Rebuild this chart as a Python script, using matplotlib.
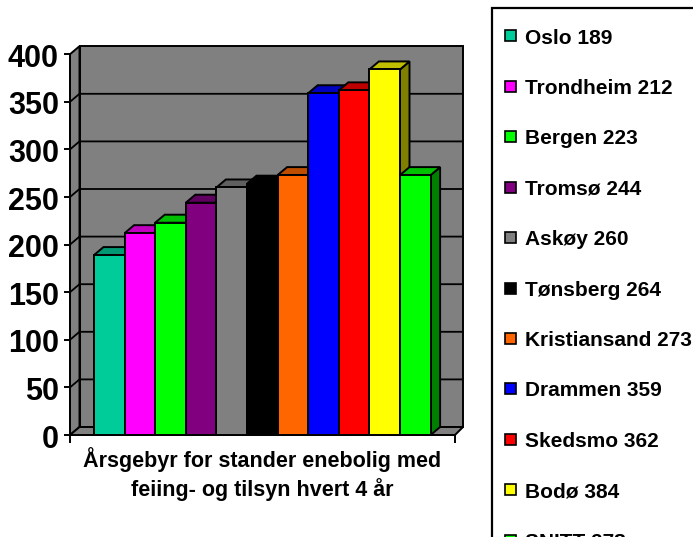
import matplotlib
matplotlib.use('Agg')
import matplotlib.pyplot as plt
from matplotlib.patches import Polygon, Rectangle
from matplotlib.transforms import ScaledTranslation

plt.rcParams['font.family'] = ['Liberation Sans', 'DejaVu Sans']
plt.rcParams['font.weight'] = 'bold'

names = ['Oslo', 'Trondheim', 'Bergen', 'Tromsø', 'Askøy', 'Tønsberg',
         'Kristiansand', 'Drammen', 'Skedsmo', 'Bodø', 'SNITT']
values = [189, 212, 223, 244, 260, 264, 273, 359, 362, 384, 273]
legend_values = [189, 212, 223, 244, 260, 264, 273, 359, 362, 384, 278]
colors = ['#00CC99', '#FF00FF', '#00FF00', '#800080', '#808080', '#000000',
          '#FF6600', '#0000FF', '#FF0000', '#FFFF00', '#00FF00']
y_ticks = [0, 50, 100, 150, 200, 250, 300, 350, 400]
title = 'Årsgebyr for stander enebolig med\nfeiing- og tilsyn hvert 4 år'


def shade(c, f):
    r, g, b = matplotlib.colors.to_rgb(c)
    return (r * f, g * f, b * f)


W, H = 693, 537
fig = plt.figure(figsize=(W / 100, H / 100), dpi=100)
fig.patch.set_facecolor('white')

# plot area in pixels, one x unit = one bar
left, right, bottom, top = 70, 463, 435, 46
ax = fig.add_axes([left / W, 1 - bottom / H, (right - left) / W, (bottom - top) / H])
bar_px = 30.6
x0 = (left - 94) / bar_px
x1 = (right - 94) / bar_px
x_front = (455 - 94) / bar_px
ax.set_xlim(x0, x1)
ax.set_ylim(0, (bottom - top) / 0.952)
dx = 9.5 / bar_px
dy = 8 / 0.952
ax.patch.set_visible(False)
ymax = y_ticks[-1]

edge = dict(edgecolor='black', linewidth=1.4, joinstyle='miter')
ax.add_patch(Polygon([(x0 + dx, dy), (x1, dy), (x1, ymax + dy), (x0 + dx, ymax + dy)],
                     facecolor='#808080', zorder=1, clip_on=False, **edge))
ax.add_patch(Polygon([(x0, 0), (x0 + dx, dy), (x0 + dx, ymax + dy), (x0, ymax)],
                     facecolor='#808080', zorder=1, clip_on=False, **edge))
ax.add_patch(Polygon([(x0, 0), (x_front, 0), (x1, dy), (x0 + dx, dy)],
                     facecolor='#808080', zorder=1, clip_on=False, **edge))
for v in y_ticks[1:-1]:
    ax.plot([x0, x0 + dx, x1], [v, v + dy, v + dy], color='black', lw=1.3,
            zorder=2, solid_joinstyle='miter')

# bars left to right so that each front hides the previous side
for i, (v, c) in enumerate(zip(values, colors)):
    z = 3 + i
    ax.add_patch(Polygon([(i + 1, 0), (i + 1 + dx, dy), (i + 1 + dx, v + dy), (i + 1, v)],
                         facecolor=shade(c, 0.5), zorder=z, **edge))
    ax.add_patch(Polygon([(i, v), (i + dx, v + dy), (i + 1 + dx, v + dy), (i + 1, v)],
                         facecolor=shade(c, 0.75), zorder=z, **edge))
    ax.bar(i + 0.5, v, width=1, color=c, zorder=z, **edge)

for s in ['top', 'right']:
    ax.spines[s].set_visible(False)
ax.spines['left'].set_bounds(0, ymax)
ax.spines['bottom'].set_bounds(x0, x_front)
ax.spines['left'].set_linewidth(1.4)
ax.spines['bottom'].set_linewidth(1.4)
ax.set_yticks(y_ticks)
ax.set_xticks([x0, x_front])
ax.set_xticklabels(['', ''])
ax.tick_params(axis='y', length=4, width=1.4, labelsize=22, pad=4)
ax.tick_params(axis='x', length=6, width=1.4)
ax.set_xlim(x0, x1)
for lab in ax.get_yticklabels():
    lab.set_transform(lab.get_transform() + ScaledTranslation(0, -1 / 100, fig.dpi_scale_trans))
fig.text(262 / W, 1 - 474 / H, title, ha='center', va='center', fontsize=15.5,
         linespacing=1.35)

# legend box runs off the picture at the right and bottom
fig.add_artist(Rectangle((492 / W, -0.1), 1.0, 1 - 8 / H + 0.1, transform=fig.transFigure,
                         facecolor='white', edgecolor='black', linewidth=1.6))
step = 50.4
for i, (n, v, c) in enumerate(zip(names, legend_values, colors)):
    y = 36 + i * step
    fig.add_artist(Rectangle((505 / W, 1 - (y + 5.5) / H), 11 / W, 11 / H, transform=fig.transFigure,
                             facecolor=c, edgecolor='black', linewidth=1.2))
    fig.text(525 / W, 1 - y / H, f'{n} {v}', va='center_baseline', ha='left', fontsize=15)

fig.savefig('out.png', dpi=100)
